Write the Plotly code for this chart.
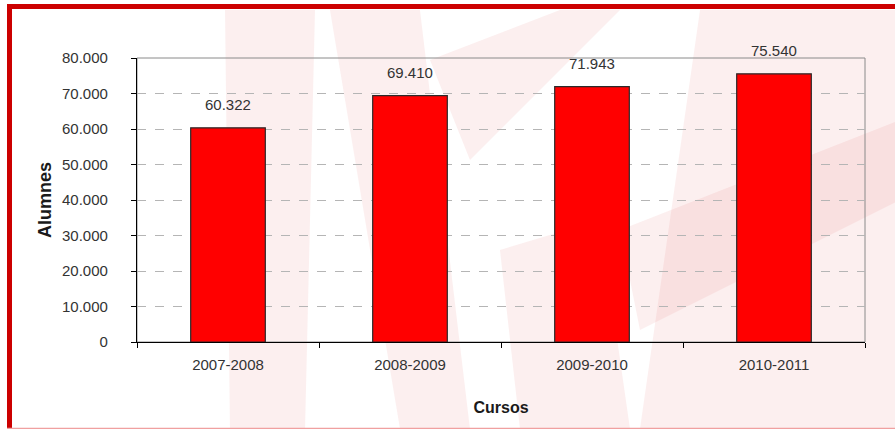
import plotly.graph_objects as go

cursos = ["2007-2008", "2008-2009", "2009-2010", "2010-2011"]
alumnes = [60322, 69410, 71943, 75540]
y_ticks = [0, 10000, 20000, 30000, 40000, 50000, 60000, 70000, 80000]

W, H = 895, 429
L, R, T, B = 137, 30, 58, 87
pw, ph = W - L - R, H - T - B

def px_x(x):
    return (x - L) / pw

def px_y(y):
    return (H - B - y) / ph

def poly(pts):
    d = "M " + " L ".join(f"{px_x(x):.4f},{px_y(y):.4f}" for x, y in pts) + " Z"
    return d

fig = go.Figure()
fig.add_trace(go.Bar(
    x=cursos, y=alumnes,
    marker=dict(color="#ff0000", line=dict(color="#2a2a2a", width=1.2)),
    width=0.41,
    hoverinfo="x+y",
))

annotations = []
for c, v in zip(cursos, alumnes):
    annotations.append(dict(
        x=c, y=v, xref="x", yref="y", text=f"{v:,}".replace(",", "."),
        showarrow=False, yanchor="bottom", yshift=13,
        font=dict(family="Liberation Sans, Arial", size=15, color="#333333"),
    ))

pink = "rgba(225,70,70,0.085)"
watermark = [
    [(225, 10), (315, 10), (305, 429), (230, 429)],
    [(330, 10), (420, 10), (470, 429), (400, 429)],
    [(430, 60), (560, 10), (620, 10), (470, 160)],
    [(500, 250), (600, 220), (630, 429), (520, 429)],
    [(700, 10), (900, 10), (900, 429), (640, 429)],
    [(620, 230), (900, 120), (900, 200), (640, 330)],
]
shapes = []
for w in watermark:
    shapes.append(dict(type="path", xref="paper", yref="paper", path=poly(w),
                       fillcolor=pink, line=dict(width=0), layer="below"))
shapes += [
    # plot area frame (top/right grey)
    dict(type="rect", xref="paper", yref="paper", x0=0, y0=0, x1=1, y1=1,
         line=dict(color="#8a8a8a", width=1), layer="below"),
    # outer red border
    dict(type="rect", xref="paper", yref="paper",
         x0=px_x(9.5), x1=px_x(900), y0=px_y(6.5), y1=px_y(432),
         line=dict(color="#cc0000", width=5), layer="above"),
    # faint bottom edge
    dict(type="line", xref="paper", yref="paper",
         x0=px_x(7), x1=px_x(900), y0=px_y(428.5), y1=px_y(428.5),
         line=dict(color="#f0a0a0", width=1.5), layer="above"),
]

fig.update_layout(
    width=W, height=H,
    margin=dict(l=L, r=R, t=T, b=B, autoexpand=False),
    paper_bgcolor="#ffffff", plot_bgcolor="rgba(0,0,0,0)",
    separators=",.",
    showlegend=False,
    annotations=annotations,
    shapes=shapes,
    font=dict(family="Liberation Sans, Arial", color="#333333"),
)
fig.update_xaxes(
    type="category",
    showline=True, linecolor="#000000", linewidth=1.3,
    ticks="outside", ticklen=5, tickcolor="#000000", tickwidth=1.3,
    tickson="boundaries", showgrid=False,
    tickfont=dict(size=15, color="#333333"),
    ticklabelstandoff=9,
    title=dict(text="<b>Cursos</b>", font=dict(size=16, color="#1a1a1a"), standoff=29),
)
fig.update_yaxes(
    range=[0, 80000],
    tickvals=y_ticks,
    tickformat=",.0f",
    showline=True, linecolor="#000000", linewidth=1.3,
    ticks="outside", ticklen=5, tickcolor="#000000", tickwidth=1.3,
    showgrid=True, gridcolor="#b5b5b5", griddash="dash", gridwidth=1,
    zeroline=False,
    tickfont=dict(size=15, color="#333333"),
    ticklabelstandoff=20,
    title=dict(text="<b>Alumnes</b>", font=dict(size=18, color="#1a1a1a"), standoff=5),
)

fig.write_html("out.html", config={"displayModeBar": False},
               post_script="document.body.style.margin='0';")
